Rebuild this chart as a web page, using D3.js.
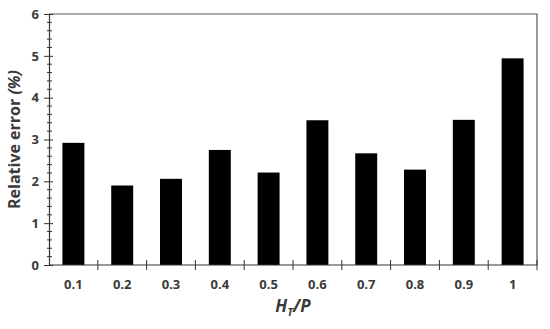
<!DOCTYPE html>
<html>
<head>
<meta charset="utf-8">
<script src="https://cdn.jsdelivr.net/npm/d3@7"></script>
<style>
  body { margin: 0; background: #fff; }
  text { font-family: 'Open Sans', sans-serif; font-weight: bold; fill: #3a3a3a; }
</style>
</head>
<body>
<script>
const ratios = ['0.1', '0.2', '0.3', '0.4', '0.5', '0.6', '0.7', '0.8', '0.9', '1'];
const relErrors = [2.92, 1.90, 2.06, 2.75, 2.21, 3.46, 2.67, 2.28, 3.47, 4.94];
const yTicks = [0, 1, 2, 3, 4, 5, 6];

const width = 550;
const height = 329;
const margin = { top: 14, right: 13, bottom: 64, left: 49 };
const w = width - margin.left - margin.right;
const h = height - margin.top - margin.bottom;

const svg = d3.select('body').append('svg').attr('width', width).attr('height', height);
const g = svg.append('g').attr('transform', `translate(${margin.left},${margin.top})`);

const x = d3.scaleBand().domain(ratios).range([0, w]).paddingInner(0.55).paddingOuter(0.275);
const y = d3.scaleLinear().domain([0, 6]).range([h, 0]);
const band = d3.scaleBand().domain(ratios).range([0, w]);

// frame top & right
g.append('path')
  .attr('d', `M0,0H${w}V${h}`)
  .attr('fill', 'none')
  .attr('stroke', '#555')
  .attr('stroke-width', 1.2);

// bars
g.selectAll('rect.bar')
  .data(relErrors)
  .enter().append('rect')
    .attr('class', 'bar')
    .attr('x', (d, i) => x(ratios[i]))
    .attr('width', x.bandwidth())
    .attr('y', d => y(d))
    .attr('height', d => h - y(d))
    .attr('fill', '#000');

// y axis with minor ticks
const minor = d3.range(0, 6.01, 0.2).filter(v => Math.abs(v - Math.round(v)) > 0.01);
g.selectAll('line.minor')
  .data(minor)
  .enter().append('line')
    .attr('x1', -2).attr('x2', 3)
    .attr('y1', d => y(d)).attr('y2', d => y(d))
    .attr('stroke', '#333');
const yAxis = g.append('g')
  .call(d3.axisLeft(y).tickValues(yTicks).tickSize(4).tickPadding(8).tickFormat(d3.format('d')));
yAxis.select('.domain').attr('stroke', '#333').attr('stroke-width', 1.2);
yAxis.selectAll('.tick line').attr('x2', 4).attr('x1', -5).attr('stroke', '#333');
yAxis.selectAll('.tick text').style('font-size', '13px').attr('x', -10);

// x axis: ticks at band boundaries
const xAxis = g.append('g').attr('transform', `translate(0,${h})`);
xAxis.append('line').attr('x1', 0).attr('x2', w).attr('stroke', '#333').attr('stroke-width', 1.2);
xAxis.selectAll('line.tk')
  .data(ratios.slice(1).concat(['end']))
  .enter().append('line')
    .attr('x1', (d, i) => i < ratios.length - 1 ? band(d) : w)
    .attr('x2', (d, i) => i < ratios.length - 1 ? band(d) : w)
    .attr('y1', -5).attr('y2', 5)
    .attr('stroke', '#333');
xAxis.selectAll('text.lbl')
  .data(ratios)
  .enter().append('text')
    .attr('x', d => band(d) + band.bandwidth() / 2)
    .attr('y', 24)
    .attr('text-anchor', 'middle')
    .style('font-size', '13px')
    .text(d => d);

// axis titles
const yTitle = svg.append('text')
  .attr('transform', `translate(20,${margin.top + h / 2}) rotate(-90)`)
  .attr('text-anchor', 'middle')
  .style('font-size', '16px');
yTitle.append('tspan').text('Relative error ');
yTitle.append('tspan').style('font-style', 'italic').text('(%)');

const xTitle = svg.append('text')
  .attr('x', margin.left + w / 2)
  .attr('y', 312)
  .attr('text-anchor', 'middle')
  .style('font-size', '17px')
  .style('font-style', 'italic');
xTitle.append('tspan').text('H');
xTitle.append('tspan').attr('dy', 4).style('font-size', '11px').text('T');
xTitle.append('tspan').attr('dy', -4).text('/P');
</script>
</body>
</html>
